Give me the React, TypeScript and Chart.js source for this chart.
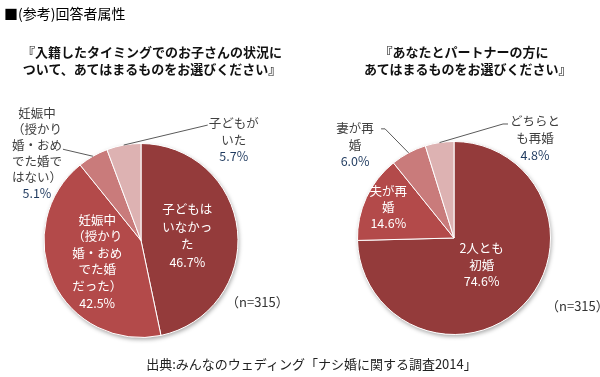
import React, { useEffect, useRef } from 'react';
import { Chart, registerables } from 'chart.js';

Chart.register(...registerables);

// ---- data ----
const childCategories = [
  '子どもはいなかった',
  '妊娠中（授かり婚・おめでた婚だった）',
  '妊娠中（授かり婚・おめでた婚ではない）',
  '子どもがいた',
];
const childValues = [46.7, 42.5, 5.1, 5.7];
const childLabelLines = [
  ['子どもは', 'いなかっ', 'た'],
  ['妊娠中', '（授かり', '婚・おめ', 'でた婚', 'だった）'],
  ['妊娠中', '（授かり', '婚・おめ', 'でた婚で', 'はない）'],
  ['子どもが', 'いた'],
];

const partnerCategories = ['2人とも初婚', '夫が再婚', '妻が再婚', 'どちらとも再婚'];
const partnerValues = [74.6, 14.6, 6.0, 4.8];
const partnerLabelLines = [
  ['2人とも', '初婚'],
  ['夫が再', '婚'],
  ['妻が再', '婚'],
  ['どちらと', 'も再婚'],
];

const sliceColors = ['#943B3B', '#B34A4A', '#C97B7B', '#DDB2B2'];

const headerText = '■(参考)回答者属性';
const leftTitle = ['『入籍したタイミングでのお子さんの状況に', 'ついて、あてはまるものをお選びください』'];
const rightTitle = ['『あなたとパートナーの方に', 'あてはまるものをお選びください』'];
const sampleText = '（n=315）';
const sourceText = '出典:みんなのウェディング「ナシ婚に関する調査2014」';

// ---- label placement (relative to arc geometry) ----
type Place =
  | { inside: number; lh: number }
  | { elbow: [number, number]; tail?: [number, number]; text: [number, number]; lh: number };

const childPlaces: Place[] = [
  { inside: 0.48, lh: 17.5 },
  { inside: 0.5, lh: 16.6 },
  { elbow: [-30, -7], text: [-56, -3], lh: 16 },
  { elbow: [84, -20], text: [110, -5], lh: 16.5 },
];
const partnerPlaces: Place[] = [
  { inside: 0.4, lh: 16.5 },
  { inside: 0.75, lh: 16 },
  { elbow: [-23.5, -24], tail: [-27.5, -24], text: [-53.5, -8], lh: 16.5 },
  { elbow: [63.5, -18.6], tail: [68.5, -18.6], text: [95.5, -4.6], lh: 17 },
];

const FONT = '"Noto Sans CJK JP", "Noto Sans", sans-serif';

function makeLabelPlugin(id: string, lines: string[][], values: number[], places: Place[]) {
  return {
    id,
    beforeDatasetsDraw(chart: any) {
      const arc: any = chart.getDatasetMeta(0).data[0];
      if (!arc) return;
      const ctx = chart.ctx as CanvasRenderingContext2D;
      ctx.save();
      ctx.shadowColor = 'rgba(0,0,0,0.35)';
      ctx.shadowBlur = 4;
      ctx.shadowOffsetX = 1;
      ctx.shadowOffsetY = 2;
      ctx.fillStyle = '#ffffff';
      ctx.beginPath();
      ctx.arc(arc.x, arc.y, arc.outerRadius, 0, Math.PI * 2);
      ctx.fill();
      ctx.restore();
    },
    afterDatasetsDraw(chart: any) {
      const ctx = chart.ctx as CanvasRenderingContext2D;
      const meta = chart.getDatasetMeta(0);
      ctx.save();
      ctx.font = `12.5px ${FONT}`;
      ctx.textAlign = 'center';
      ctx.textBaseline = 'middle';
      meta.data.forEach((el: any, i: number) => {
        const { x, y, startAngle, endAngle, outerRadius } = el.getProps(
          ['x', 'y', 'startAngle', 'endAngle', 'outerRadius'],
          true
        );
        const mid = (startAngle + endAngle) / 2;
        const p = places[i];
        const txt = [...lines[i], values[i].toFixed(1) + '%'];
        let cx: number;
        let cy: number;
        let inside = false;
        if ('inside' in p) {
          inside = true;
          cx = x + Math.cos(mid) * outerRadius * p.inside;
          cy = y + Math.sin(mid) * outerRadius * p.inside;
        } else {
          const ex = x + Math.cos(mid) * outerRadius;
          const ey = y + Math.sin(mid) * outerRadius;
          ctx.strokeStyle = '#5a5a5a';
          ctx.lineWidth = 1;
          ctx.beginPath();
          ctx.moveTo(ex, ey);
          ctx.lineTo(ex + p.elbow[0], ey + p.elbow[1]);
          if (p.tail) ctx.lineTo(ex + p.tail[0], ey + p.tail[1]);
          ctx.stroke();
          cx = ex + p.text[0];
          cy = ey + p.text[1];
        }
        const n = txt.length;
        txt.forEach((t, k) => {
          const ty = cy + (k - (n - 1) / 2) * p.lh;
          const isPct = k === n - 1;
          if (inside) ctx.fillStyle = '#ffffff';
          else ctx.fillStyle = isPct ? '#1F3A5F' : '#404040';
          ctx.fillText(t, cx, ty);
        });
      });
      ctx.restore();
    },
  };
}

function PieCanvas(props: {
  categories: string[];
  values: number[];
  lines: string[][];
  places: Place[];
  padding: { left: number; right: number; top: number; bottom: number };
  id: string;
}) {
  const ref = useRef<HTMLCanvasElement | null>(null);
  useEffect(() => {
    if (!ref.current) return;
    const chart = new Chart(ref.current, {
      type: 'pie',
      data: {
        labels: props.categories,
        datasets: [
          {
            data: props.values,
            backgroundColor: sliceColors,
            borderColor: '#ffffff',
            borderWidth: 1,
          },
        ],
      },
      options: {
        responsive: false,
        animation: false,
        devicePixelRatio: 1,
        layout: { padding: props.padding },
        plugins: {
          legend: { display: false },
          tooltip: { enabled: false },
        },
      },
      plugins: [makeLabelPlugin(props.id, props.lines, props.values, props.places)],
    });
    return () => chart.destroy();
  }, []);
  return (
    <canvas
      ref={ref}
      width={600}
      height={377}
      style={{ position: 'absolute', left: 0, top: 0, width: 600, height: 377 }}
    />
  );
}

const abs = (s: React.CSSProperties): React.CSSProperties => ({
  position: 'absolute',
  fontFamily: FONT,
  whiteSpace: 'nowrap',
  margin: 0,
  ...s,
});

export default function App() {
  return (
    <div
      style={{
        position: 'absolute',
        left: 0,
        top: 0,
        width: 600,
        height: 377,
        background: '#ffffff',
        overflow: 'hidden',
      }}
    >
      <PieCanvas
        id="childLabels"
        categories={childCategories}
        values={childValues}
        lines={childLabelLines}
        places={childPlaces}
        padding={{ left: 43.5, right: 361.5, top: 143, bottom: 39 }}
      />
      <PieCanvas
        id="partnerLabels"
        categories={partnerCategories}
        values={partnerValues}
        lines={partnerLabelLines}
        places={partnerPlaces}
        padding={{ left: 357, right: 49, top: 141, bottom: 42 }}
      />
      <div style={abs({ left: 4, top: 3, fontSize: 14, lineHeight: '20px', color: '#000' })}>{headerText}</div>
      <div
        style={abs({
          left: 0,
          width: 304,
          top: 43,
          fontSize: 13,
          lineHeight: '17px',
          fontWeight: 'bold',
          textAlign: 'center',
          color: '#111',
        })}
      >
        {leftTitle.map((t) => (
          <div key={t}>{t}</div>
        ))}
      </div>
      <div
        style={abs({
          left: 364,
          width: 200,
          top: 43,
          fontSize: 13,
          lineHeight: '17px',
          fontWeight: 'bold',
          textAlign: 'center',
          color: '#111',
        })}
      >
        {rightTitle.map((t) => (
          <div key={t}>{t}</div>
        ))}
      </div>
      <div style={abs({ left: 226, top: 293, fontSize: 13, lineHeight: '18px', color: '#333' })}>{sampleText}</div>
      <div style={abs({ left: 546, top: 297, fontSize: 13, lineHeight: '18px', color: '#333' })}>{sampleText}</div>
      <div
        style={abs({
          left: 0,
          width: 623,
          top: 355,
          fontSize: 13,
          lineHeight: '18px',
          textAlign: 'center',
          color: '#222',
        })}
      >
        {sourceText}
      </div>
    </div>
  );
}
